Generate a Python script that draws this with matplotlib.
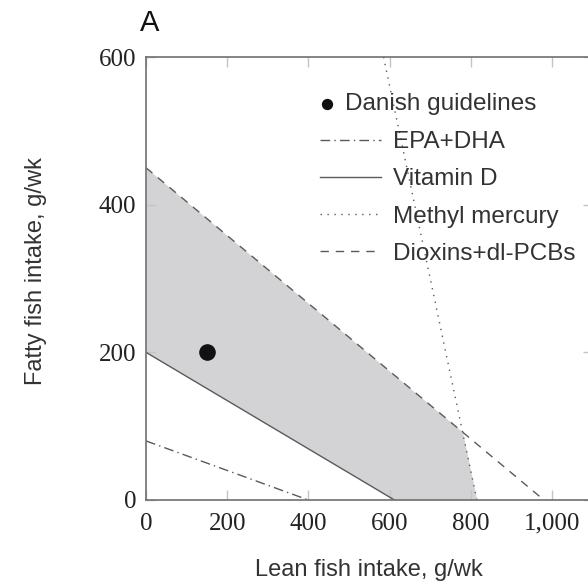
import numpy as np
import matplotlib.pyplot as plt
from matplotlib.ticker import FuncFormatter

# Constraint lines (lean g/wk, fatty g/wk)
epa_x = [0, 400]
epa_y = [80, 0]
vitd_x = [0, 612]
vitd_y = [200, 0]
mercury_x = [585, 815]
mercury_y = [600, 0]
dioxin_x = [0, 980]
dioxin_y = [450, 0]

# Danish guidelines point
danish_x = [150]
danish_y = [200]

xticks = [0, 200, 400, 600, 800, 1000]
yticks = [0, 200, 400, 600]

line_col = '#5a5a5a'
text_col = '#333333'
sans = 'Liberation Sans'

fig = plt.figure(figsize=(5.88, 5.84), dpi=100)
# axes run past the right edge, as in the reference crop
ax_w = 1100 * 0.406
ax = fig.add_axes([146 / 588, 84 / 584, ax_w / 588, 443 / 584])

def ax_x(px):
    return (px - 146) / ax_w

def ax_y(py):
    return (500 - py) / 443

# feasible region: above vitamin D, below dioxins and methyl mercury
xs = np.linspace(0, 815, 3000)
lower = np.interp(xs, vitd_x, vitd_y, right=0)
upper_d = np.interp(xs, dioxin_x, dioxin_y)
upper_m = np.interp(xs, mercury_x, mercury_y, left=600)
upper = np.minimum(upper_d, upper_m)
ax.fill_between(xs, lower, upper, where=upper >= lower, color='#d3d3d5', lw=0)

ax.plot(epa_x, epa_y, color=line_col, lw=1.0, ls=(0, (7, 3, 1, 3)), label='EPA+DHA')
ax.plot(vitd_x, vitd_y, color=line_col, lw=1.0, ls='-', label='Vitamin D')
ax.plot(mercury_x, mercury_y, color=line_col, lw=1.0, ls=(0, (1, 4)), label='Methyl mercury')
ax.plot(dioxin_x, dioxin_y, color=line_col, lw=1.0, ls=(0, (6, 5)), label='Dioxins+dl-PCBs')
pt = ax.scatter(danish_x, danish_y, s=120, color='#111111', zorder=5, label='Danish guidelines')

ax.set_xlim(0, 1100)
ax.set_ylim(0, 600)
ax.set_xticks(xticks)
ax.set_yticks(yticks)
ax.xaxis.set_major_formatter(FuncFormatter(lambda v, p: f'{int(v):,}'))
ax.tick_params(direction='in', length=7, width=1, color='#c4c4c4',
               top=True, right=True, labelsize=18, labelcolor='#222222', pad=7)
ax.tick_params(axis='x', pad=9)
for lab in ax.get_xticklabels() + ax.get_yticklabels():
    lab.set_fontfamily('Liberation Serif')
for s in ax.spines.values():
    s.set_color('#707070')
    s.set_linewidth(1.2)

ax.set_xlabel('Lean fish intake, g/wk', fontsize=17, color=text_col, fontfamily=sans)
ax.xaxis.set_label_coords(0.5, ax_y(559))
ax.set_ylabel('Fatty fish intake, g/wk', fontsize=17, color=text_col, fontfamily=sans)
ax.yaxis.set_label_coords(ax_x(47), ax_y(271))

fig.text(150 / 588, 1 - 23 / 584, 'A', fontsize=21, color='#111111',
         fontfamily=sans, va='center', ha='center')

# legend: point entry and line entries
leg1 = ax.legend(handles=[pt], loc='upper left', bbox_to_anchor=(ax_x(320), ax_y(93)),
                 frameon=False, borderpad=0, borderaxespad=0,
                 handlelength=0.6, handletextpad=0.43, markerscale=0.65,
                 prop={'family': sans, 'size': 17.5})
for t in leg1.get_texts():
    t.set_color(text_col)
ax.add_artist(leg1)
handles = ax.get_lines()
leg2 = ax.legend(handles=handles, loc='upper left', bbox_to_anchor=(ax_x(320), ax_y(131)),
                 frameon=False, borderpad=0, borderaxespad=0,
                 handlelength=2.5, handletextpad=0.5, labelspacing=0.63,
                 prop={'family': sans, 'size': 17.5})
for t in leg2.get_texts():
    t.set_color(text_col)

fig.savefig('out.png', dpi=100)
